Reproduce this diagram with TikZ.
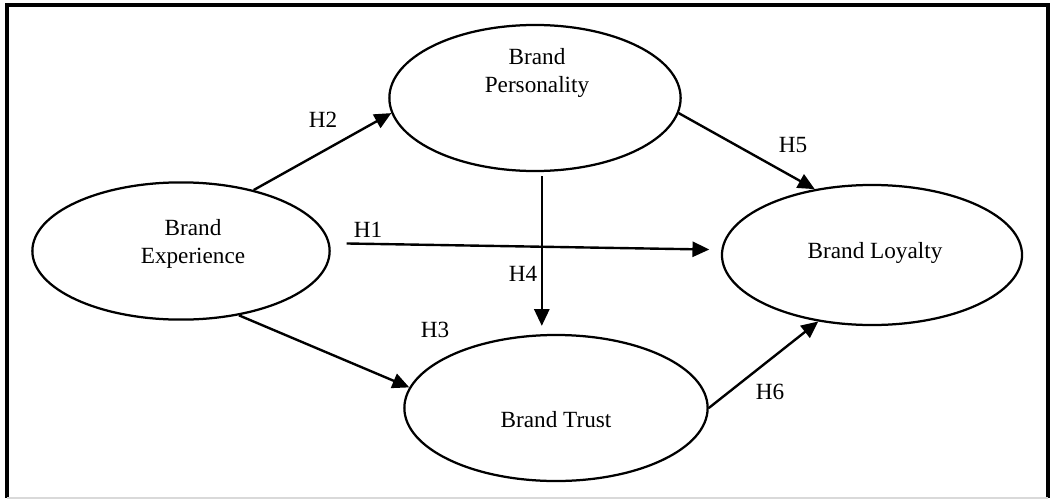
\documentclass[tikz,border=0pt]{standalone}
\usepackage{fontspec}
\setmainfont{Liberation Serif}
\usetikzlibrary{shapes.geometric,arrows.meta}
\begin{document}
\begin{tikzpicture}[x=0.025cm,y=-0.025cm,line width=1.6pt]
	\def \frameleft{7}
	\def \frameright{1048}
	\def \frametop{5}
	\def \framebot{498}
	\tikzstyle{c-node}=[ellipse,draw,inner sep=0pt]
	\tikzstyle{t-node}=[align=center,font=\fontsize{16.5}{19.5}\selectfont]
	\tikzstyle{h-label}=[font=\fontsize{16.5}{19.5}\selectfont]
	\tikzstyle{h-edge}=[-{Triangle[length=0.42cm,width=0.38cm]},line width=1.7pt]
	\useasboundingbox (0,0) rectangle (1050,500);
	% frame
	\draw[line width=2.2pt] (\frameleft,\framebot) -- (\frameleft,\frametop) -- (\frameright,\frametop) -- (\frameright,\framebot);
	\draw[black!15,line width=1pt] (\frameleft,\framebot) -- (\frameright,\framebot);

	% constructs
	\node[c-node,minimum width=7.43cm,minimum height=3.43cm] 	(exp)	at (181,251)	{};
	\node[c-node,minimum width=7.28cm,minimum height=3.65cm] 	(pers)	at (535,98)	{};
	\node[c-node,minimum width=7.5cm,minimum height=3.5cm] 	(loy)	at (872,255)	{};
	\node[c-node,minimum width=7.58cm,minimum height=3.65cm] 	(trust)	at (556,408)	{};

	% construct names
	\node[t-node] 	(exptxt)	at (193,244)	{Brand\\Experience};
	\node[t-node] 	(perstxt)	at (537,73)	{Brand\\Personality};
	\node[t-node] 	(loytxt)	at (875,253)	{Brand Loyalty};
	\node[t-node] 	(trusttxt)	at (556,420)	{Brand Trust};

	% hypotheses
	\node[h-label] 	(h1)	at (368,230)	{H1};
	\node[h-label] 	(h2)	at (323,120)	{H2};
	\node[h-label] 	(h3)	at (435,330)	{H3};
	\node[h-label] 	(h4)	at (523,274)	{H4};
	\node[h-label] 	(h5)	at (793,145)	{H5};
	\node[h-label] 	(h6)	at (770,392)	{H6};

	\path[h-edge]
		(exp.40)	edge	(pers.186)
		(exp.3)	edge[shorten <=0.42cm,shorten >=0.3cm]	(loy.178)
		(exp.-48)	edge	(trust.172)
		([xshift=0.17cm,yshift=-0.1cm]pers.south)	edge[shorten >=0.2cm]	([xshift=0.17cm]pers.south |- trust.north)
		(pers.-6)	edge	(loy.131)
		(trust.east)	edge	(loy.-129);
\end{tikzpicture}
\end{document}
